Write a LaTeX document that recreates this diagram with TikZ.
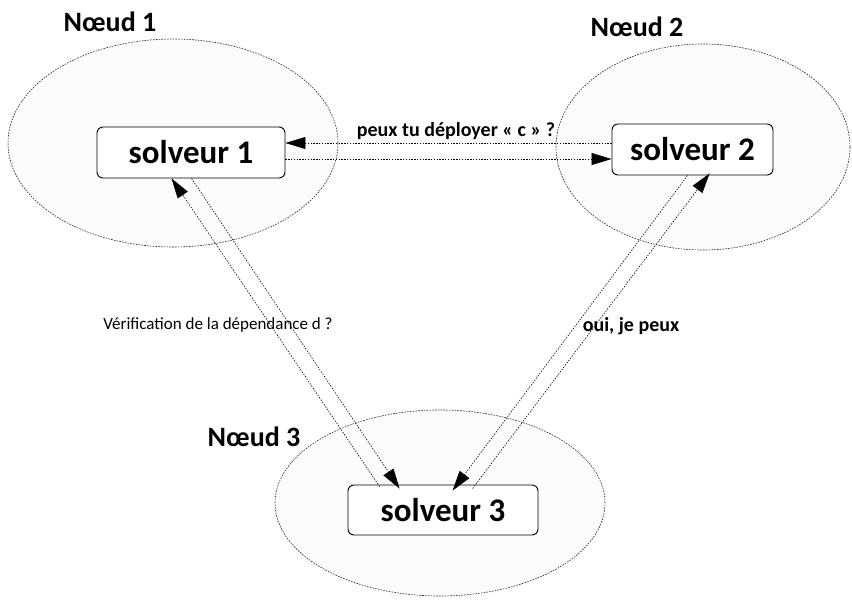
\documentclass[tikz,border=0pt]{standalone}
\usepackage{fontspec}
\setmainfont{Carlito}
\usetikzlibrary{shapes.geometric,arrows.meta,calc}
\begin{document}
\begin{tikzpicture}[x=1pt,y=-1pt,
  zone/.style={draw=black!85,ellipse,line width=0.6pt,dash pattern=on 1.6pt off 1.2pt,fill=black!1,inner sep=0pt},
  solv/.style={draw=black,line width=0.9pt,rounded corners=6pt,fill=white,font=\fontsize{33}{36}\selectfont\bfseries,inner sep=0pt},
  nlabel/.style={font=\fontsize{28}{32}\selectfont\bfseries,inner sep=0pt},
  msg/.style={font=\fontsize{20}{24}\selectfont\bfseries,inner sep=0pt},
  msgr/.style={font=\fontsize{17}{20}\selectfont,inner sep=0pt},
  arr/.style={line width=0.6pt,dash pattern=on 1.4pt off 1.4pt,-{Triangle[length=20pt,width=12pt]}}]
\useasboundingbox (0,0) rectangle (852,600);
% zones
\node[zone,minimum width=330,minimum height=208] (e1) at (173,143) {};
\node[zone,minimum width=294,minimum height=206] (e2) at (703,147) {};
\node[zone,minimum width=330,minimum height=186] (e3) at (440,503) {};
% node labels
\node[nlabel] (n1) at (110,22) {Nœud 1};
\node[nlabel] (n2) at (637,27) {Nœud 2};
\node[nlabel] (n3) at (254,437) {Nœud 3};
% solvers
\node[solv,minimum width=188,minimum height=51] (s1) at (191,152.5) {solveur 1};
\node[solv,minimum width=161,minimum height=51] (s2) at (692.5,149.5) {solveur 2};
\node[solv,minimum width=190,minimum height=50] (s3) at (443,510) {solveur 3};
% connectors
\draw[arr] ($(s2.west)+(0,-6.5)$) -- ($(s1.east)+(0,-9.5)$);
\draw[arr] ($(s1.east)+(0,6.5)$) -- ($(s2.west)+(0,9.5)$);
\draw[arr] ($(s3.north west)+(32,2)$) -- ($(s1.south west)+(75,0)$);
\draw[arr] ($(s1.south west)+(95,0)$) -- ($(s3.north west)+(52,4)$);
\draw[arr] ($(s3.north west)+(125,4)$) -- ($(s2.south west)+(98,-2)$);
\draw[arr] ($(s2.south west)+(76,0)$) -- ($(s3.north west)+(105,6)$);
% messages
\node[msg] (m1) at (456,131) {peux tu déployer « c » ?};
\node[msgr] (m2) at (218,325) {Vérification de la dépendance d ?};
\node[msg] (m3) at (631,326) {oui, je peux};
\end{tikzpicture}
\end{document}
